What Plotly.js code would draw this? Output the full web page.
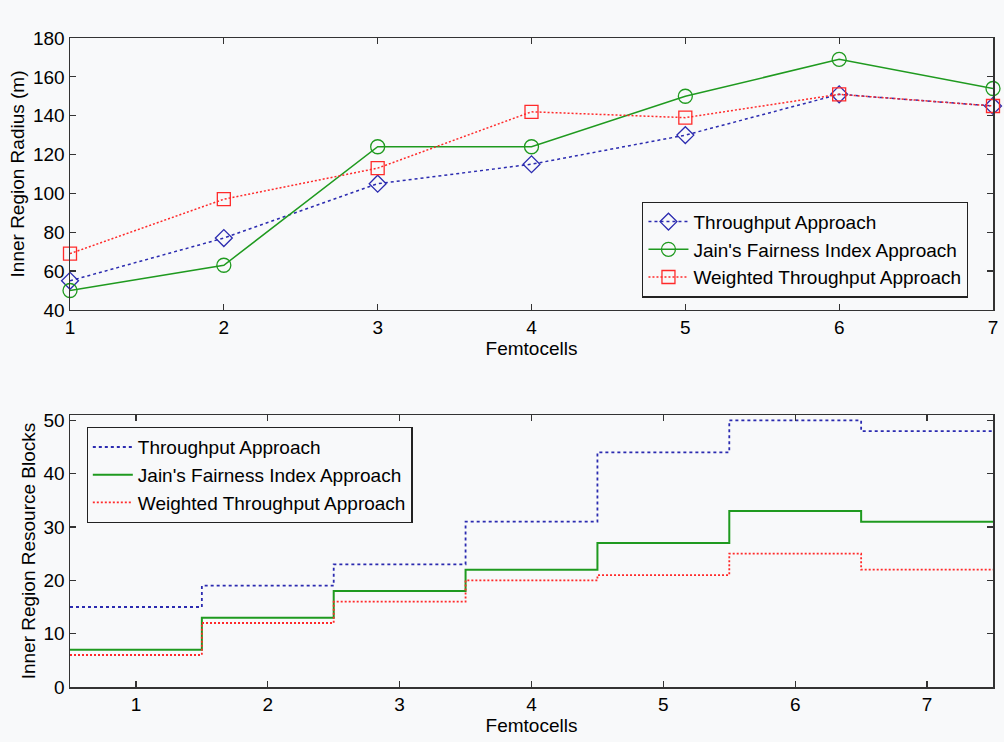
<!DOCTYPE html>
<html>
<head>
<meta charset="utf-8">
<script src="https://cdn.plot.ly/plotly-3.0.1.min.js"></script>
<style>html,body{margin:0;padding:0;background:#f8f9fa;}#chart{width:1004px;height:742px;}</style>
</head>
<body>
<div id="chart"></div>
<script>
const femtocells = [1, 2, 3, 4, 5, 6, 7];
const seriesNames = ["Throughput Approach", "Jain's Fairness Index Approach", "Weighted Throughput Approach"];
// Top panel: inner region radius (m)
const radiusThroughput = [55, 77, 105, 115, 130, 151, 145];
const radiusJain = [50, 63, 124, 124, 150, 169, 154];
const radiusWeighted = [69, 97, 113, 142, 139, 151, 145];
// Bottom panel: inner region resource blocks
const rbThroughput = [15, 19, 23, 31, 44, 50, 48];
const rbJain = [7, 13, 18, 22, 27, 33, 31];
const rbWeighted = [6, 12, 16, 20, 21, 25, 22];
const xTickLabels = ["1", "2", "3", "4", "5", "6", "7"];

const colors = ["#2b2bb0", "#1f9a1f", "#ff2a2a"];
const dashes = ["3px,3px", "solid", "2px,2px"];
const symbols = ["diamond-open", "circle-open", "square-open"];
const radii = [radiusThroughput, radiusJain, radiusWeighted];
const rbs = [rbThroughput, rbJain, rbWeighted];

function stairs(vals) {
  const xs = femtocells.map(c => c - 0.5).concat([femtocells[femtocells.length - 1] + 0.5]);
  const ys = vals.concat([vals[vals.length - 1]]);
  return {xs, ys};
}

const traces = [];
for (let i = 0; i < 3; i++) {
  traces.push({
    x: femtocells, y: radii[i], name: seriesNames[i], type: 'scatter', mode: 'lines+markers',
    xaxis: 'x', yaxis: 'y', legend: 'legend',
    line: {color: colors[i], width: 1.5, dash: dashes[i]},
    marker: {symbol: symbols[i], size: i === 1 ? 14 : 13, color: colors[i], line: {width: 1.3, color: colors[i]}},
    cliponaxis: false
  });
}
for (let i = 0; i < 3; i++) {
  const s = stairs(rbs[i]);
  traces.push({
    x: s.xs, y: s.ys, name: seriesNames[i], type: 'scatter', mode: 'lines',
    xaxis: 'x2', yaxis: 'y2', legend: 'legend2',
    line: {color: colors[i], width: i === 1 ? 2 : 1.8, dash: dashes[i], shape: 'hv'}
  });
}

const font = {family: 'Liberation Sans, Arial, sans-serif', size: 19, color: '#000'};
const axisCommon = {
  showline: true, linecolor: '#333', linewidth: 1.5, mirror: 'ticks',
  ticks: 'inside', ticklen: 6, tickcolor: '#333', tickwidth: 1.2,
  showgrid: false, zeroline: false, tickfont: font
};

const layout = {
  width: 1004, height: 742,
  paper_bgcolor: '#f8f9fa', plot_bgcolor: '#f8f9fa',
  margin: {l: 70, r: 11, t: 38, b: 55},
  font: font,
  showlegend: true,
  xaxis: Object.assign({}, axisCommon, {
    domain: [0, 1], range: [1, 7], tickvals: femtocells, ticktext: xTickLabels, anchor: 'y',
    title: {text: 'Femtocells', font: font, standoff: 1}
  }),
  yaxis: Object.assign({}, axisCommon, {
    domain: [0.581, 1], range: [40, 180], dtick: 20, anchor: 'x',
    title: {text: 'Inner Region Radius (m)', font: font, standoff: 3}
  }),
  xaxis2: Object.assign({}, axisCommon, {
    domain: [0, 1], range: [0.5, 7.5], tickvals: femtocells, ticktext: xTickLabels, anchor: 'y2',
    title: {text: 'Femtocells', font: font, standoff: 1}
  }),
  yaxis2: Object.assign({}, axisCommon, {
    domain: [0, 0.419], range: [0, 51], tickvals: [0, 10, 20, 30, 40, 50], anchor: 'x2',
    title: {text: 'Inner Region Resource Blocks', font: font, standoff: 3}
  }),
  legend: {
    x: 0.62, y: 0.674, xanchor: 'left', yanchor: 'middle',
    bgcolor: '#f8f9fa', bordercolor: '#222', borderwidth: 1.2,
    font: font,
    tracegroupgap: 0, itemwidth: 40
  },
  legend2: {
    x: 0.018, y: 0.3267, xanchor: 'left', yanchor: 'middle',
    bgcolor: '#f8f9fa', bordercolor: '#222', borderwidth: 1.2,
    font: font,
    tracegroupgap: 0, itemwidth: 40
  }
};

Plotly.newPlot('chart', traces, layout, {displayModeBar: false, staticPlot: true});
</script>
</body>
</html>
